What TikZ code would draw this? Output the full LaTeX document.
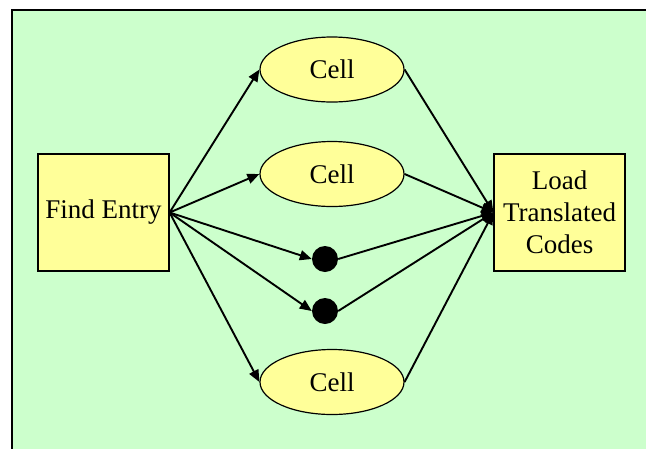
\documentclass[tikz,border=0pt]{standalone}
\usepackage{fontspec}
\setmainfont{Liberation Serif}
\usetikzlibrary{shapes.geometric,arrows.meta}
\definecolor{bggreen}{HTML}{CCFFCC}
\definecolor{boxyellow}{HTML}{FFFF99}

\begin{document}
\begin{tikzpicture}[x=1pt,y=-1pt,font=\fontsize{27}{32}\selectfont,
  box/.style={rectangle,draw,fill=boxyellow,minimum width=131pt,minimum height=117pt,align=center,inner sep=0pt,line width=1.2pt},
  cell/.style={ellipse,draw,fill=boxyellow,minimum width=144pt,minimum height=65pt,inner sep=0pt,line width=1.2pt},
  dot/.style={circle,fill=black,minimum size=26pt,inner sep=0pt},
  link/.style={line width=1.9pt,-{Triangle[length=12pt,width=10pt]}}]
\useasboundingbox (0,0) rectangle (646,448);
\fill[bggreen] (12,10) rectangle (660,460);
\draw[line width=1.2pt] (12,460) -- (12,10) -- (660,10);
\node[box] (find) at (103.5,212.5) {Find Entry};
\node[box] (load) at (559.5,212.5) {Load\\Translated\\Codes};
\node[cell] (c1) at (332,69.5) {Cell};
\node[cell] (c2) at (332,174) {Cell};
\node[dot] (d1) at (325,259) {};
\node[dot] (d2) at (325,311) {};
\node[cell] (c3) at (332,382) {Cell};
\path[link]
(find.east) edge (c1.west)
            edge (c2.west)
            edge (d1.west)
            edge (d2.west)
            edge (c3.west)
(c1.east) edge (load.west)
(c2.east) edge (load.west)
(d1.east) edge (load.west)
(d2.east) edge (load.west)
(c3.east) edge (load.west);
\end{tikzpicture}
\end{document}
